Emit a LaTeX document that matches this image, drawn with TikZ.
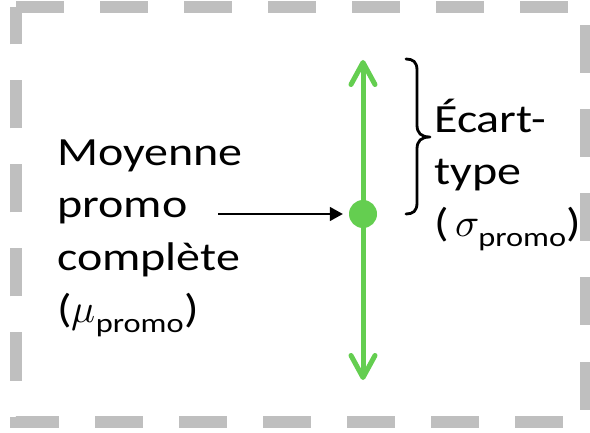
\documentclass[tikz,border=0pt]{standalone}
\usepackage{fontspec}
\usepackage{unicode-math}
\setmainfont{Carlito}
\newfontfamily\lblfont{Carlito}[FakeStretch=1.2]
\usetikzlibrary{arrows.meta}

\definecolor{framegray}{RGB}{191,191,191}
\definecolor{spreadgreen}{RGB}{100,206,80}

% subscript used for the population symbols
\newcommand\subpromo{\mbox{\lblfont\fontsize{27}{27}\selectfont promo}}

\begin{document}
\begin{tikzpicture}[x=1pt,y=-1pt,
  frame/.style={draw=framegray, line width=12pt, dash pattern=on 48pt off 36pt, line cap=butt, line join=miter},
  lbltext/.style={font=\lblfont\fontsize{40}{52.5}\selectfont, align=left, inner sep=0pt, anchor=base west},
  spread/.style={draw=spreadgreen, line width=5pt, line cap=round,
    {Straight Barb[length=22pt,width=24pt,line cap=round,line join=round]}-{Straight Barb[length=22pt,width=24pt,line cap=round,line join=round]}},
  meandot/.style={circle, fill=spreadgreen, minimum size=28pt, inner sep=0pt},
  pointer/.style={draw=black, line width=1.5pt, -{Triangle[length=13pt,width=14pt]}, shorten >=6pt},
  sdbrace/.style={draw=black, line width=2.8pt, line cap=round, line join=round}
]
\useasboundingbox (0,0) rectangle (590,433);

% dashed frame, traced clockwise from the top-left corner
\draw[frame] (16,7.5) -- (586,7.5) -- (586,422) -- (16,422) -- cycle;

% spread of the whole class around its mean
\coordinate (top) at (363,60);
\coordinate (bot) at (363,380);
\draw[spread] (bot) -- (top);
\node[meandot] (mu) at (363,214) {};

% label of the mean (anchored on the baseline of its last line)
\node[lbltext] (meanlbl) at (57,323) {Moyenne\\promo\\complète\\(\(\mu_{\subpromo}\))};
\coordinate (ptrstart) at (218,214);
\draw[pointer] (ptrstart) -- (mu);

% closing brace spanning one standard deviation above the mean
\draw[sdbrace] (406,59) .. controls (413,59) and (417,62) .. (417,70)
  -- (417,125) .. controls (417,133) and (421,137) .. (430,137)
  .. controls (421,137) and (417,141) .. (417,149)
  -- (417,203) .. controls (417,211) and (413,214) .. (406,214);
\node[lbltext] (sdlbl) at (434,237) {Écart-\\type\\(\,\(\sigma_{\subpromo}\))};
\end{tikzpicture}
\end{document}
